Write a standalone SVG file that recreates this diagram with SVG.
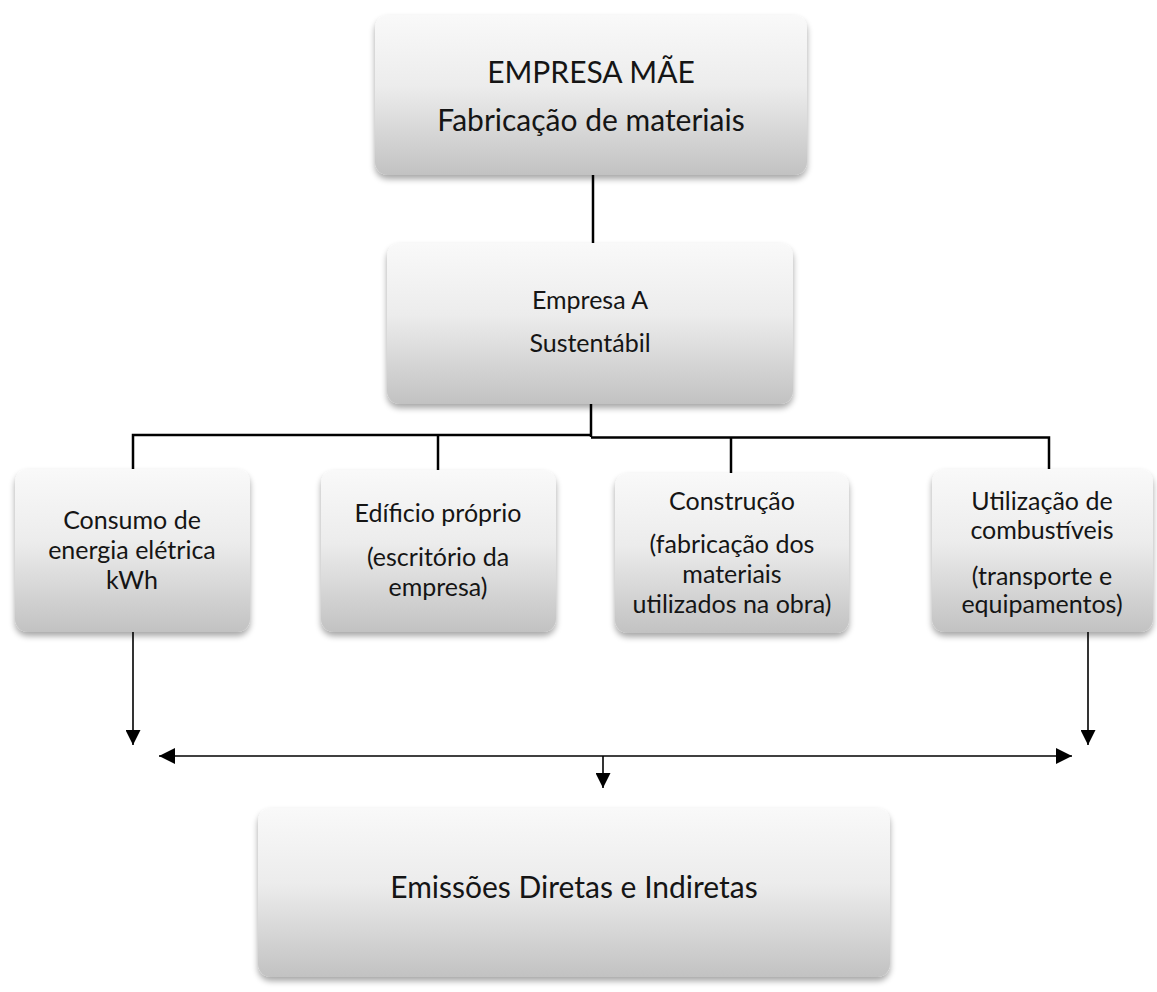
<svg xmlns="http://www.w3.org/2000/svg" width="1157" height="992" viewBox="0 0 1157 992">
<defs>
<linearGradient id="g" x1="0" y1="0" x2="0" y2="1">
<stop offset="0" stop-color="#f9f9f9"/>
<stop offset="0.45" stop-color="#ececec"/>
<stop offset="1" stop-color="#c2c2c2"/>
</linearGradient>
<filter id="sh" x="-10%" y="-10%" width="120%" height="130%">
<feGaussianBlur in="SourceAlpha" stdDeviation="3"/>
<feOffset dx="0" dy="4" result="b"/>
<feComponentTransfer><feFuncA type="linear" slope="0.35"/></feComponentTransfer>
<feMerge><feMergeNode/><feMergeNode in="SourceGraphic"/></feMerge>
</filter>
<marker id="ah" viewBox="0 0 10 10" refX="10" refY="5" markerWidth="16" markerHeight="16" markerUnits="userSpaceOnUse" orient="auto-start-reverse">
<path d="M0,0 L10,5 L0,10 z" fill="#000"/>
</marker>
<marker id="ah2" viewBox="0 0 10 10" refX="10" refY="5" markerWidth="15" markerHeight="15" markerUnits="userSpaceOnUse" orient="auto-start-reverse">
<path d="M0,0 L10,5 L0,10 z" fill="#000"/>
</marker>
</defs>
<style>
.box{fill:url(#g);filter:url(#sh);}
.t{font-family:Lato,"Liberation Sans",sans-serif;fill:#151515;text-anchor:middle;}
.big{font-size:30px;}
.mid{font-size:25px;}
.ln{stroke:#000;stroke-width:2.5;fill:none;}
.ar{stroke:#000;stroke-width:1.6;fill:none;}
</style>
<rect width="1157" height="992" fill="#fff"/>

<g id="connectors">
<path class="ln" d="M593,175 V243"/>
<path class="ln" d="M591,404 V437"/>
<path class="ln" d="M133,470 V435 H591"/>
<path class="ln" d="M591,437.5 H1049 V470"/>
<path class="ln" d="M438,435 V470"/>
<path class="ln" d="M731,437.5 V473"/>
<path class="ar" d="M133,632 V745" marker-end="url(#ah2)"/>
<path class="ar" d="M1088,632 V745" marker-end="url(#ah2)"/>
<path class="ar" stroke-width="2.2" d="M159,756 H1072" marker-start="url(#ah)" marker-end="url(#ah)"/>
<path class="ar" d="M603,756 V788" marker-end="url(#ah2)"/>
</g>

<g id="empresa-mae">
<rect class="box" x="375" y="15" width="432" height="160" rx="13"/>
<text class="t big" x="591" y="83">EMPRESA MÃE</text>
<text class="t big" x="591" y="131">Fabricação de materiais</text>
</g>

<g id="empresa-a">
<rect class="box" x="387" y="243" width="406" height="161" rx="13"/>
<text class="t mid" x="590" y="309">Empresa A</text>
<text class="t mid" x="590" y="352">Sustentábil</text>
</g>

<g id="consumo">
<rect class="box" x="15" y="469" width="235" height="163" rx="13"/>
<text class="t mid" x="132" y="529">Consumo de</text>
<text class="t mid" x="132" y="559">energia elétrica</text>
<text class="t mid" x="132" y="589">kWh</text>
</g>

<g id="edificio">
<rect class="box" x="321" y="470" width="235" height="162" rx="13"/>
<text class="t mid" x="438" y="522">Edíficio próprio</text>
<text class="t mid" x="438" y="566">(escritório da</text>
<text class="t mid" x="438" y="596">empresa)</text>
</g>

<g id="construcao">
<rect class="box" x="615" y="473" width="234" height="160" rx="13"/>
<text class="t mid" x="732" y="510">Construção</text>
<text class="t mid" x="732" y="553">(fabricação dos</text>
<text class="t mid" x="732" y="583">materiais</text>
<text class="t mid" x="732" y="613">utilizados na obra)</text>
</g>

<g id="utilizacao">
<rect class="box" x="932" y="469" width="221" height="163" rx="13"/>
<text class="t mid" x="1042" y="510">Utilização de</text>
<text class="t mid" x="1042" y="539">combustíveis</text>
<text class="t mid" x="1042" y="585">(transporte e</text>
<text class="t mid" x="1042" y="613">equipamentos)</text>
</g>

<g id="emissoes">
<rect class="box" x="258" y="808" width="632" height="169" rx="13"/>
<text class="t big" x="574" y="898">Emissões Diretas e Indiretas</text>
</g>
</svg>
